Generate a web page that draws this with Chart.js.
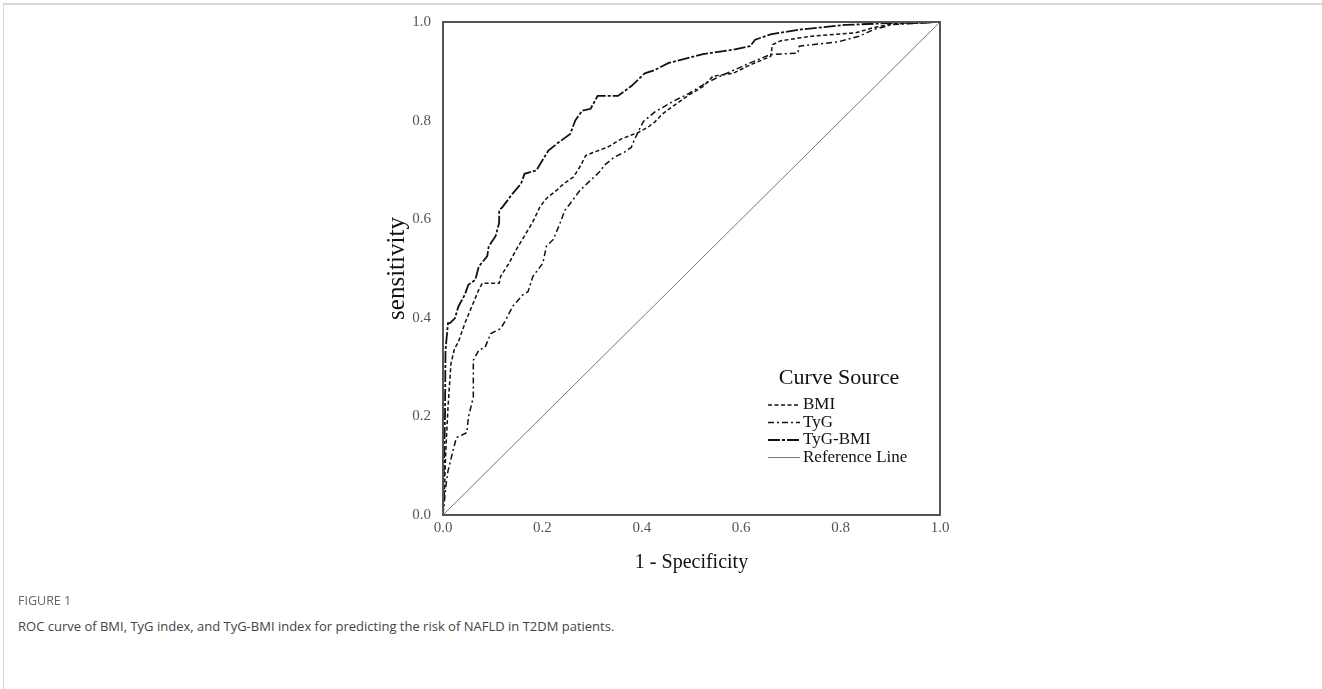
<!DOCTYPE html>
<html>
<head>
<meta charset="utf-8">
<script src="https://cdn.jsdelivr.net/npm/chart.js@4/dist/chart.umd.min.js"></script>
<style>
html,body{margin:0;padding:0;background:#fff;width:1322px;height:689px;overflow:hidden;}
#frame{position:absolute;left:3px;top:3px;right:0;bottom:0;border-top:2px solid #d6d6d6;border-left:1px solid #d6d6d6;}
#wrap{position:absolute;left:0;top:0;width:1322px;height:600px;}
#fig{position:absolute;left:18px;top:592px;font-family:"Open Sans",sans-serif;font-size:12.5px;color:#666;}
#cap{position:absolute;left:18px;top:617px;font-family:"Open Sans",sans-serif;font-size:13px;color:#444;}
</style>
</head>
<body>
<div id="frame"></div>
<div id="wrap"><canvas id="c" width="1322" height="600"></canvas></div>
<div id="fig">FIGURE 1</div>
<div id="cap">ROC curve of BMI, TyG index, and TyG-BMI index for predicting the risk of NAFLD in T2DM patients.</div>
<script>
// ---- data (1 - specificity, sensitivity) ----
const tickValues = [0, 0.2, 0.4, 0.6, 0.8, 1.0];
const legendTitle = "Curve Source";
const seriesNames = ["BMI", "TyG", "TyG-BMI", "Reference Line"];

const bmiFpr = [0,0.003,0.005,0.010,0.016,0.023,0.031,0.044,0.058,0.072,0.079,0.113,0.116,0.133,0.147,0.164,0.181,0.195,0.208,0.229,0.243,0.263,0.277,0.287,0.304,0.331,0.359,0.393,0.413,0.427,0.441,0.461,0.495,0.523,0.543,0.584,0.618,0.659,0.663,0.680,0.741,0.830,0.864,0.905,1];
const bmiTpr = [0,0.050,0.116,0.218,0.307,0.337,0.351,0.389,0.423,0.457,0.470,0.470,0.484,0.511,0.538,0.566,0.595,0.625,0.642,0.659,0.672,0.686,0.709,0.729,0.736,0.746,0.763,0.776,0.787,0.798,0.813,0.828,0.852,0.869,0.890,0.896,0.913,0.930,0.954,0.962,0.971,0.978,0.988,0.996,1];

const tygFpr = [0,0.003,0.006,0.010,0.020,0.027,0.048,0.051,0.061,0.061,0.072,0.085,0.096,0.116,0.126,0.140,0.160,0.171,0.181,0.201,0.208,0.222,0.236,0.245,0.256,0.276,0.297,0.318,0.324,0.345,0.365,0.379,0.386,0.403,0.427,0.461,0.495,0.529,0.564,0.618,0.659,0.714,0.717,0.796,0.837,0.867,0.905,1];
const tygTpr = [0,0.030,0.060,0.089,0.130,0.157,0.167,0.198,0.239,0.314,0.334,0.341,0.368,0.378,0.395,0.423,0.446,0.453,0.484,0.511,0.545,0.559,0.593,0.618,0.632,0.659,0.679,0.699,0.709,0.726,0.736,0.746,0.763,0.798,0.818,0.838,0.855,0.876,0.893,0.917,0.934,0.937,0.951,0.960,0.971,0.985,0.995,1];

const tygBmiFpr = [0,0.002,0.004,0.005,0.010,0.014,0.024,0.031,0.044,0.051,0.065,0.072,0.089,0.092,0.106,0.113,0.113,0.120,0.140,0.157,0.164,0.188,0.198,0.212,0.229,0.256,0.266,0.280,0.297,0.311,0.352,0.379,0.406,0.427,0.454,0.523,0.584,0.618,0.628,0.659,0.721,0.809,0.878,1];
const tygBmiTpr = [0,0.100,0.200,0.334,0.389,0.389,0.399,0.423,0.447,0.467,0.477,0.504,0.525,0.545,0.566,0.593,0.618,0.625,0.652,0.672,0.692,0.699,0.716,0.739,0.753,0.773,0.800,0.820,0.824,0.850,0.850,0.870,0.896,0.903,0.917,0.935,0.944,0.951,0.964,0.975,0.985,0.994,0.997,1];

const refFpr = [0, 1];
const refTpr = [0, 1];

const pts = (xs, ys) => xs.map((x, i) => ({x: x, y: ys[i]}));

const serif = "'Liberation Serif', 'Times New Roman', serif";

const framePlugin = {
  id: 'frame',
  afterDatasetsDraw(chart) {
    const a = chart.chartArea, ctx = chart.ctx;
    ctx.save();
    ctx.strokeStyle = '#555';
    ctx.lineWidth = 2;
    ctx.strokeRect(a.left, a.top, a.right - a.left, a.bottom - a.top);
    ctx.restore();
  }
};

const legendPlugin = {
  id: 'curveLegend',
  afterDraw(chart) {
    const ctx = chart.ctx;
    ctx.save();
    ctx.fillStyle = '#111';
    ctx.textBaseline = 'middle';
    ctx.font = "22px " + serif;
    ctx.textAlign = 'center';
    ctx.fillText(legendTitle, 839, 378);
    ctx.font = "17px " + serif;
    ctx.textAlign = 'left';
    const rows = [405, 422.5, 440, 457.5];
    chart.data.datasets.forEach((ds, i) => {
      const y = rows[i];
      ctx.strokeStyle = ds.borderColor;
      ctx.lineWidth = ds.borderWidth;
      ctx.setLineDash(ds.borderDash || []);
      ctx.beginPath();
      ctx.moveTo(768, y);
      ctx.lineTo(800, y);
      ctx.stroke();
      ctx.setLineDash([]);
      ctx.fillText(ds.label, 803, y);
    });
    ctx.restore();
  }
};

new Chart(document.getElementById('c'), {
  type: 'scatter',
  data: {
    datasets: [
      {label: seriesNames[0], data: pts(bmiFpr, bmiTpr), showLine: true, borderColor: '#111', borderWidth: 1.5, borderDash: [4, 2.5], pointRadius: 0, tension: 0},
      {label: seriesNames[1], data: pts(tygFpr, tygTpr), showLine: true, borderColor: '#111', borderWidth: 1.5, borderDash: [6, 3, 2, 3], pointRadius: 0, tension: 0},
      {label: seriesNames[2], data: pts(tygBmiFpr, tygBmiTpr), showLine: true, borderColor: '#111', borderWidth: 1.8, borderDash: [12, 2, 3, 2], pointRadius: 0, tension: 0},
      {label: seriesNames[3], data: pts(refFpr, refTpr), showLine: true, borderColor: '#777', borderWidth: 1, pointRadius: 0, tension: 0}
    ]
  },
  options: {
    responsive: false,
    animation: false,
    devicePixelRatio: 1,
    layout: {padding: {left: 382, right: 382, top: 22, bottom: 25}},
    plugins: {legend: {display: false}, tooltip: {enabled: false}},
    scales: {
      x: {
        type: 'linear', min: 0, max: 1,
        grid: {display: false, drawTicks: false},
        border: {display: false},
        afterBuildTicks: s => { s.ticks = tickValues.map(v => ({value: v})); },
        afterFit: s => { s.height = 60; },
        ticks: {padding: 4, color: '#555', font: {family: serif, size: 15}, callback: v => Number(v).toFixed(1), maxRotation: 0},
        title: {display: true, text: '1 - Specificity', color: '#111', font: {family: serif, size: 20}, padding: 0}
      },
      y: {
        type: 'linear', min: 0, max: 1,
        grid: {display: false, drawTicks: false},
        border: {display: false},
        afterBuildTicks: s => { s.ticks = tickValues.map(v => ({value: v})); },
        afterFit: s => { s.width = 61; },
        ticks: {padding: 12, color: '#555', font: {family: serif, size: 15}, callback: v => Number(v).toFixed(1)},
        title: {display: true, text: 'sensitivity', color: '#111', font: {family: serif, size: 25}, padding: 0}
      }
    }
  },
  plugins: [framePlugin, legendPlugin]
});
</script>
</body>
</html>
